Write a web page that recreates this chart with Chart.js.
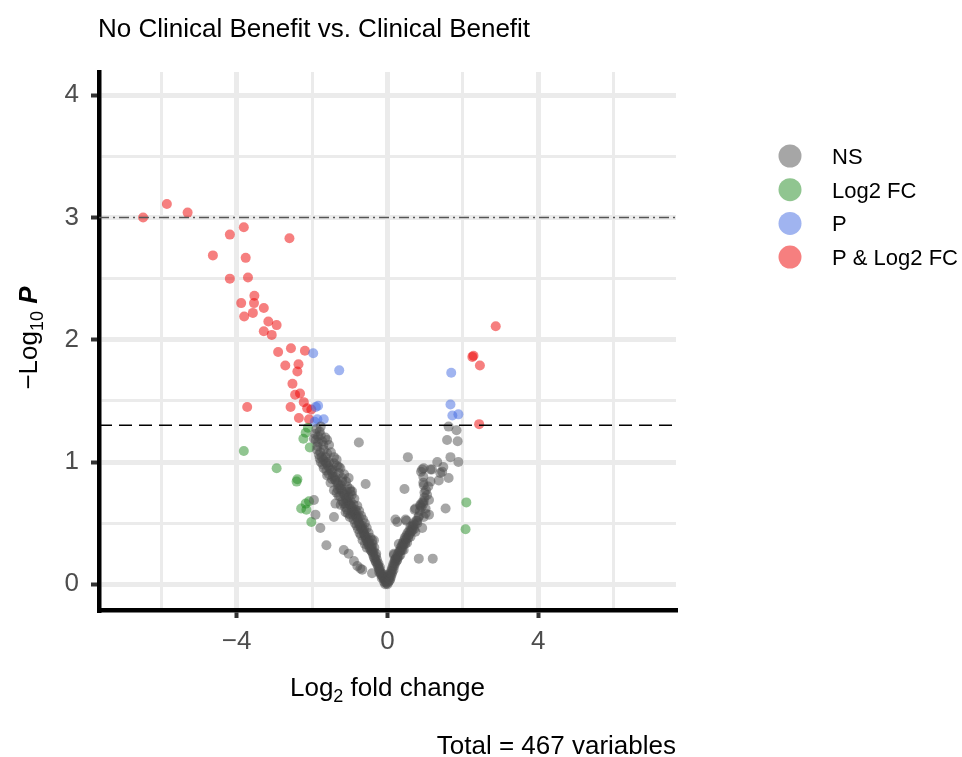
<!DOCTYPE html>
<html>
<head>
<meta charset="utf-8">
<script src="https://cdn.jsdelivr.net/npm/chart.js@4.4.1/dist/chart.umd.min.js"></script>
<style>
  body { margin: 0; background: #fff; }
  canvas { display: block; }
</style>
</head>
<body>
<canvas id="myChart" width="962" height="757"></canvas>
<script>
// log2 fold change, -log10 p
const nsPoints = [
  [-0.02,0.01],[-0.05,0.02],[-0.04,0.03],[-0.08,0.04],[-0.1,0.05],[-0.12,0.06],[-0.07,0.06],[-0.14,0.07],
  [-0.11,0.08],[-0.16,0.09],[-0.19,0.1],[-0.21,0.12],[-0.23,0.13],[-0.2,0.14],[-0.25,0.15],[-0.27,0.16],
  [-0.24,0.17],[-0.3,0.18],[-0.32,0.19],[-0.28,0.2],[-0.34,0.21],[-0.36,0.22],[-0.31,0.23],[-0.38,0.24],
  [-0.4,0.26],[-0.42,0.27],[-0.37,0.27],[-0.45,0.28],[-0.41,0.29],[-0.47,0.3],[-0.43,0.31],[-0.5,0.32],
  [-0.48,0.33],[-0.52,0.34],[-0.54,0.35],[-0.5,0.36],[-0.56,0.37],[-0.58,0.38],[-0.55,0.39],[-0.6,0.4],
  [-0.62,0.41],[-0.63,0.42],[-0.65,0.44],[-0.62,0.45],[-0.67,0.45],[-0.7,0.46],[-0.72,0.47],[-0.68,0.48],
  [-0.74,0.49],[-0.76,0.5],[-0.78,0.52],[-0.8,0.54],[-0.83,0.55],[-0.76,0.55],[-0.85,0.57],[-0.92,0.57],
  [-0.98,0.57],[-0.88,0.58],[-0.82,0.59],[-0.9,0.6],[-0.95,0.6],[-1.07,0.61],[-0.85,0.61],[-0.93,0.62],
  [-0.96,0.64],[-0.9,0.65],[-1.0,0.65],[-1.03,0.66],[-1.12,0.66],[-1.16,0.66],[-1.06,0.68],[-0.98,0.68],
  [-1.09,0.69],[-1.1,0.71],[-1.03,0.72],[-1.29,0.72],[-1.13,0.73],[-1.16,0.74],[-1.35,0.75],[-1.2,0.76],
  [-1.08,0.76],[-0.94,0.76],[-1.42,0.77],[-1.23,0.78],[-1.27,0.79],[-1.07,0.8],[-1.3,0.81],[-1.24,0.81],
  [-1.33,0.83],[-1.51,0.83],[-1.2,0.84],[-1.37,0.85],[-1.4,0.86],[-1.03,0.87],[-1.2,0.87],[-1.44,0.88],
  [-1.38,0.88],[-1.6,0.89],[-1.46,0.91],[-1.29,0.91],[-1.5,0.93],[-1.46,0.94],[-1.54,0.95],[-1.69,0.95],
  [-1.29,0.96],[-1.58,0.97],[-1.34,0.97],[-1.62,0.99],[-1.42,0.99],[-1.64,1.0],[-1.77,1.0],[-1.55,1.0],
  [-1.7,1.02],[-1.74,1.04],[-1.64,1.04],[-1.42,1.04],[-1.82,1.06],[-1.6,1.07],[-1.78,1.08],[-1.69,1.1],
  [-1.86,1.13],[-1.7,1.14],[-1.84,1.16],[-1.73,1.17],[-1.6,1.18],[-1.95,1.19],[-1.65,1.2],[-1.77,1.22],
  [-1.92,1.23],[-1.8,1.25],[-1.88,1.27],[-1.77,1.29],
  [-0.55,0.3],[-0.6,0.33],[-0.66,0.36],[-0.7,0.4],[-0.74,0.42],[-0.78,0.45],[-0.82,0.48],[-0.86,0.5],
  [-0.9,0.53],[-1.0,0.55],[-1.05,0.58],[-1.12,0.63],[-1.2,0.68],[-1.25,0.72],[-1.32,0.78],[-1.47,0.86],
  [-1.55,0.9],[-1.62,0.93],[-1.72,0.98],[-1.8,1.03],[-1.87,1.1],[-1.9,1.18],[-1.84,1.21],
  [-0.3,0.25],[-0.35,0.3],[-0.4,0.33],[-0.45,0.38],[-0.5,0.42],[-0.55,0.46],[-0.6,0.5],[-0.65,0.53],
  [-0.7,0.56],[-0.75,0.6],[-0.8,0.64],[-0.88,0.7],[-0.95,0.73],[-1.0,0.78],[-1.1,0.84],[-1.15,0.9],
  [-1.25,0.95],[-1.35,1.02],[-1.5,1.08],[-1.55,1.14],
  [-0.15,0.05],[-0.18,0.08],[-0.22,0.1],[-0.06,0.0],[0.0,0.0],[-0.09,0.02],
  [-0.76,1.16],[-0.58,0.82],[-1.62,0.32],[-1.78,0.46],[-1.91,0.57],[-1.95,0.69],[-1.42,0.55],[-1.16,0.28],
  [-1.03,0.25],[-0.89,0.19],[-0.8,0.15],[-0.72,0.13],[-0.67,0.12],[-0.41,0.09],[-0.36,0.36],[-0.41,0.36],
  [-1.38,0.66],[-1.24,0.65],[-1.11,0.59],[-0.98,0.76],
  [0.02,0.02],[0.05,0.03],[0.04,0.05],[0.09,0.06],[0.06,0.07],[0.03,0.08],[0.08,0.09],[0.1,0.11],
  [0.12,0.13],[0.14,0.15],[0.16,0.17],[0.19,0.19],[0.26,0.2],[0.22,0.21],[0.25,0.23],[0.17,0.24],
  [0.34,0.24],[0.28,0.25],[0.31,0.27],[0.39,0.28],[0.43,0.28],[0.35,0.3],[0.38,0.32],[0.41,0.34],
  [0.52,0.34],[0.48,0.35],[0.44,0.36],[0.46,0.38],[0.61,0.39],[0.5,0.4],[0.56,0.4],[0.53,0.42],
  [0.74,0.43],[0.58,0.44],[0.64,0.45],[0.7,0.45],[0.92,0.46],[0.61,0.47],[0.66,0.48],[0.69,0.5],
  [0.79,0.5],[0.26,0.51],[0.5,0.52],[0.79,0.52],[0.48,0.53],[0.21,0.53],[0.96,0.55],[0.84,0.56],
  [1.1,0.57],[1.01,0.58],[0.72,0.61],[0.74,0.62],[1.01,0.62],[1.54,0.62],[0.87,0.64],[0.87,0.65],
  [0.92,0.67],[0.96,0.68],[1.1,0.69],[0.98,0.71],[1.05,0.73],[1.02,0.77],[0.45,0.78],[0.96,0.81],
  [0.95,0.83],[1.14,0.84],[1.36,0.85],[1.62,0.87],[0.95,0.88],[1.4,0.91],[0.89,0.92],[1.45,0.92],
  [0.92,0.94],[1.14,0.94],[1.18,0.94],[0.96,0.95],[1.48,0.96],[1.32,1.0],[1.88,1.0],[1.67,1.04],
  [0.54,1.04],[1.58,1.18],[1.86,1.17],[1.62,1.29],[1.83,1.26],[0.83,0.21],[1.2,0.21],[0.17,0.25],
  [0.2,0.2],[0.3,0.33],
  [0.07,0.04],[0.11,0.08],[0.13,0.1],[0.16,0.12],[0.18,0.15],[0.2,0.17],[0.24,0.19],[0.27,0.22],
  [0.3,0.23],[0.33,0.27],[0.36,0.28],[0.4,0.31],[0.43,0.33],[0.47,0.33],[0.5,0.37],[0.55,0.38],
  [0.58,0.41],[0.62,0.43],[0.66,0.44],[0.68,0.47],[0.72,0.49],[0.76,0.52],[0.82,0.55],[0.86,0.6],
  [0.9,0.63],[0.95,0.66],[0.98,0.75],[1.08,0.8]
];
const fcPoints = [
  [-3.81,1.09],[-2.94,0.95],[-2.39,0.86],[-2.41,0.84],[-2.06,1.12],[-2.23,1.19],[-2.17,1.24],[-2.11,1.28],
  [-2.08,0.68],[-2.17,0.66],[-2.29,0.62],[-2.15,0.61],[-2.02,0.51],[2.09,0.67],[2.07,0.45]
];
const pPoints = [
  [-1.97,1.89],[-1.28,1.75],[-1.84,1.46],[-1.9,1.45],[-1.86,1.35],[-1.69,1.35],[-1.93,1.33],
  [1.69,1.73],[1.67,1.47],[1.72,1.38],[1.88,1.39]
];
const bothPoints = [
  [-6.48,3.0],[-5.85,3.11],[-5.3,3.04],[-3.81,2.92],[-4.18,2.86],[-2.6,2.83],[-4.63,2.69],[-3.76,2.67],
  [-4.18,2.5],[-3.7,2.51],[-3.53,2.36],[-3.88,2.3],[-3.54,2.3],[-3.28,2.26],[-3.8,2.19],[-3.57,2.22],
  [-3.16,2.15],[-2.94,2.12],[-3.28,2.07],[-3.07,2.04],[-2.9,1.9],[-2.56,1.93],[-2.19,1.91],[-2.71,1.79],
  [-2.36,1.8],[-2.39,1.74],[-2.52,1.64],[-2.45,1.55],[-2.32,1.56],[-3.72,1.45],[-2.57,1.45],[-2.22,1.49],
  [-2.13,1.44],[-2.02,1.43],[-2.35,1.36],[-2.08,1.35],
  [2.87,2.11],[2.25,1.86],[2.28,1.87],[2.45,1.79],[2.43,1.31]
];

const legendLabels = ["NS", "Log2 FC", "P", "P & Log2 FC"];
const pointColors = ["rgba(77,77,77,0.5)", "rgba(34,139,34,0.5)", "rgba(65,105,225,0.5)", "rgba(238,0,0,0.5)"];

const xTickValues = [-6, -4, -2, 0, 2, 4, 6];
const xTickLabels = ["", "\u22124", "", "0", "", "4", ""];
const yTickValues = [0, 0.5, 1, 1.5, 2, 2.5, 3, 3.5, 4];
const yTickLabels = ["0", "", "1", "", "2", "", "3", "", "4"];

const pCutoff = 1.3;      // -log10(0.05)
const pCutoff2 = 3.0;     // dot-dash line

const toXY = (pts) => pts.map((p) => ({ x: p[0], y: p[1] }));

const FONT = "'Liberation Sans', Arial, sans-serif";

const isMajor = (labels, values, v) => labels[values.indexOf(v)] !== "";

const overlay = {
	id: "overlay",
	afterDatasetsDraw(chart) {
		const { ctx, chartArea: a, scales } = chart;
		ctx.save();
		ctx.lineWidth = 1.5;
		let py = scales.y.getPixelForValue(pCutoff);
		ctx.strokeStyle = "#000";
		ctx.setLineDash([13, 7]);
		ctx.beginPath();
		ctx.moveTo(a.left, py);
		ctx.lineTo(a.right, py);
		ctx.stroke();
		py = scales.y.getPixelForValue(pCutoff2);
		ctx.strokeStyle = "#555";
		ctx.setLineDash([10, 4, 2, 4]);
		ctx.beginPath();
		ctx.moveTo(a.left, py);
		ctx.lineTo(a.right, py);
		ctx.stroke();
		ctx.restore();
	},
	afterDraw(chart) {
		const { ctx, chartArea: a } = chart;
		ctx.save();
		ctx.fillStyle = "#000";
		ctx.textBaseline = "alphabetic";

		// title
		ctx.font = "26px " + FONT;
		ctx.textAlign = "left";
		ctx.fillText("No Clinical Benefit vs. Clinical Benefit", a.left - 1, 37);

		// caption
		ctx.textAlign = "right";
		ctx.fillText("Total = 467 variables", a.right, 754);

		// x title with subscript
		ctx.textAlign = "left";
		const big = "26px " + FONT, small = "18px " + FONT;
		ctx.font = big;
		const w1 = ctx.measureText("Log").width;
		const w3 = ctx.measureText(" fold change").width;
		ctx.font = small;
		const w2 = ctx.measureText("2").width;
		let x = (a.left + a.right) / 2 - (w1 + w2 + w3) / 2;
		ctx.font = big;
		ctx.fillText("Log", x, 696);
		ctx.font = small;
		ctx.fillText("2", x + w1, 702);
		ctx.font = big;
		ctx.fillText(" fold change", x + w1 + w2, 696);

		// y title
		ctx.translate(37, 338);
		ctx.rotate(-Math.PI / 2);
		const bold = "italic bold 26px " + FONT;
		ctx.font = big;
		const v1 = ctx.measureText("\u2212Log").width;
		const sp = ctx.measureText(" ").width;
		ctx.font = small;
		const v2 = ctx.measureText("10").width;
		ctx.font = bold;
		const v3 = ctx.measureText("P").width;
		x = -(v1 + v2 + sp + v3) / 2;
		ctx.font = big;
		ctx.fillText("\u2212Log", x, 0);
		ctx.font = small;
		ctx.fillText("10", x + v1, 6);
		ctx.font = bold;
		ctx.fillText("P", x + v1 + v2 + sp, 0);
		ctx.restore();

		// legend
		ctx.save();
		ctx.font = "22px " + FONT;
		ctx.textAlign = "left";
		chart.data.datasets.forEach((ds, i) => {
			const cy = 156 + i * 33.7;
			ctx.fillStyle = ds.backgroundColor;
			ctx.beginPath();
			ctx.arc(790, cy, 11.5, 0, Math.PI * 2);
			ctx.fill();
			ctx.fillStyle = "#000";
			ctx.fillText(ds.label, 832, cy + 8);
		});
		ctx.restore();
	},
};

const seriesList = [nsPoints, fcPoints, pPoints, bothPoints];

new Chart(document.getElementById("myChart").getContext("2d"), {
	type: "scatter",
	data: {
		datasets: seriesList.map((pts, i) => ({
			label: legendLabels[i],
			data: toXY(pts),
			backgroundColor: pointColors[i],
			borderWidth: 0,
			pointRadius: 5,
			pointHoverRadius: 5,
		})),
	},
	options: {
		responsive: false,
		animation: false,
		devicePixelRatio: 1,
		layout: { padding: { left: 0, right: 286, top: 72, bottom: 0 } },
		plugins: { legend: { display: false }, tooltip: { enabled: false } },
		scales: {
			x: {
				type: "linear",
				min: -7.65,
				max: 7.65,
				afterBuildTicks: (s) => { s.ticks = xTickValues.map((v) => ({ value: v })); },
				afterFit: (s) => { s.height = 147; },
				ticks: {
					callback: (v, i) => xTickLabels[i],
					color: "#4d4d4d",
					font: { size: 26, family: FONT },
					padding: 8,
					maxRotation: 0,
				},
				grid: {
					color: "#ebebeb",
					lineWidth: (c) => (isMajor(xTickLabels, xTickValues, c.tick.value) ? 5 : 3),
					tickColor: (c) => (isMajor(xTickLabels, xTickValues, c.tick.value) ? "#333" : "rgba(0,0,0,0)"),
					tickWidth: 4,
					tickLength: 8,
				},
				border: { display: true, color: "#000", width: 4.5 },
			},
			y: {
				type: "linear",
				min: -0.21,
				max: 4.19,
				afterBuildTicks: (s) => { s.ticks = yTickValues.map((v) => ({ value: v })); },
				afterFit: (s) => { s.width = 99; },
				ticks: {
					callback: (v, i) => yTickLabels[i],
					color: "#4d4d4d",
					font: { size: 26, family: FONT },
					padding: 12,
				},
				grid: {
					color: "#ebebeb",
					lineWidth: (c) => (isMajor(yTickLabels, yTickValues, c.tick.value) ? 5 : 3),
					tickColor: (c) => (isMajor(yTickLabels, yTickValues, c.tick.value) ? "#333" : "rgba(0,0,0,0)"),
					tickWidth: 4,
					tickLength: 8,
				},
				border: { display: true, color: "#000", width: 4.5 },
			},
		},
	},
	plugins: [overlay],
});
</script>
</body>
</html>
